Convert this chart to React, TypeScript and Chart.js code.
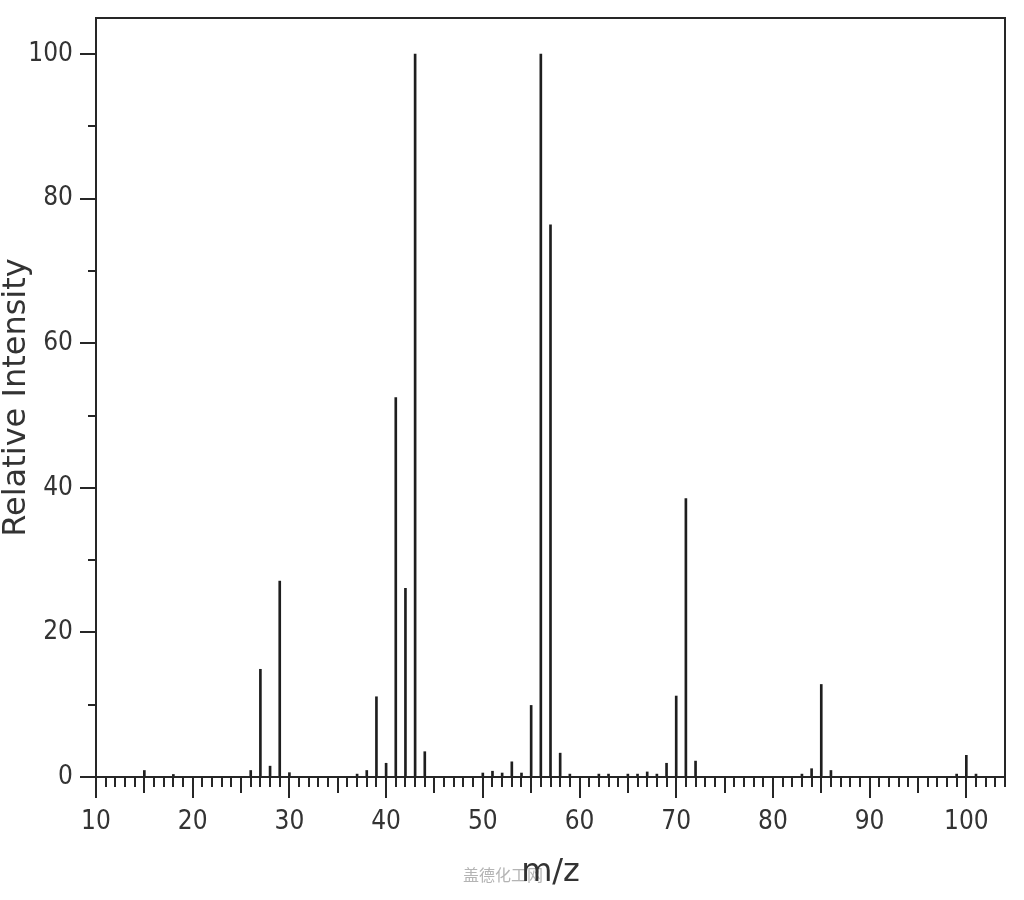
import React, { useEffect, useRef } from "react";
import { Chart, registerables } from "chart.js";

Chart.register(...registerables);

// m/z values and relative intensities
const MZ = [15, 18, 26, 27, 28, 29, 30, 37, 38, 39, 40, 41, 42, 43, 44, 50, 51, 52, 53, 54, 55, 56, 57, 58, 59, 62, 63, 65, 66, 67, 68, 69, 70, 71, 72, 83, 84, 85, 86, 99, 100, 101];
const INTENSITY = [0.9, 0.35, 0.9, 14.9, 1.5, 27.1, 0.6, 0.4, 0.9, 11.1, 1.9, 52.5, 26.1, 100, 3.5, 0.55, 0.8, 0.55, 2.1, 0.55, 9.9, 100, 76.4, 3.3, 0.4, 0.4, 0.4, 0.4, 0.4, 0.7, 0.4, 1.9, 11.2, 38.5, 2.2, 0.4, 1.15, 12.8, 0.9, 0.4, 3.0, 0.4];

const X_TICKS = [10, 20, 30, 40, 50, 60, 70, 80, 90, 100];
const Y_TICKS = [0, 20, 40, 60, 80, 100];
const X_MIN = 10;
const X_MAX = 104;
const Y_MIN = 0;
const Y_MAX = 105;

const X_TITLE = "m/z";
const Y_TITLE = "Relative Intensity";
const WATERMARK = "盖德化工网";

const AXIS_FONT = "'DejaVu Sans Condensed', 'Liberation Sans Narrow', 'Liberation Sans', sans-serif";
const TITLE_FONT = "'DejaVu Sans', 'Liberation Sans', sans-serif";
const INK = "#262626";

const specPlugin = {
  id: "specDecor",
  beforeDraw(chart: any) {
    const { ctx } = chart;
    ctx.save();
    ctx.fillStyle = "#b4b4b4";
    ctx.font = "16px 'Noto Sans CJK SC', sans-serif";
    ctx.textAlign = "left";
    ctx.textBaseline = "middle";
    ctx.fillText(WATERMARK, 463, 875);
    ctx.restore();
  },
  afterDatasetsDraw(chart: any) {
    const { ctx, chartArea, scales } = chart;
    const xs = scales.x;
    const ys = scales.y;
    ctx.save();
    ctx.strokeStyle = INK;
    ctx.lineWidth = 2;
    ctx.strokeRect(
      chartArea.left,
      chartArea.top,
      chartArea.right - chartArea.left,
      chartArea.bottom - chartArea.top
    );
    ctx.beginPath();
    for (let m = Math.ceil(xs.min); m <= Math.floor(xs.max); m++) {
      const px = Math.round(xs.getPixelForValue(m));
      const len = m % 10 === 0 ? 21 : m % 5 === 0 ? 16 : 10;
      ctx.moveTo(px, chartArea.bottom);
      ctx.lineTo(px, chartArea.bottom + len);
    }
    for (let v = 0; v <= 100; v += 10) {
      const py = Math.round(ys.getPixelForValue(v));
      const len = v % 20 === 0 ? 16 : 8;
      ctx.moveTo(chartArea.left - len, py);
      ctx.lineTo(chartArea.left, py);
    }
    ctx.stroke();
    ctx.restore();
  },
};

export default function App() {
  const canvasRef = useRef<HTMLCanvasElement | null>(null);

  useEffect(() => {
    if (!canvasRef.current) return;
    const data = MZ.map((m, i) => ({ x: m, y: INTENSITY[i] }));
    const chart = new Chart(canvasRef.current, {
      type: "bar",
      data: {
        datasets: [
          {
            data: data as any,
            backgroundColor: "#1e1e1e",
            borderWidth: 0,
            barThickness: 2,
          },
        ],
      },
      plugins: [specPlugin],
      options: {
        animation: false,
        responsive: false,
        maintainAspectRatio: false,
        layout: { padding: { top: 18, right: 19, left: 0, bottom: 0 } },
        plugins: {
          legend: { display: false },
          tooltip: { enabled: false },
        },
        scales: {
          x: {
            type: "linear",
            min: X_MIN,
            max: X_MAX,
            offset: false,
            grid: { display: false, drawTicks: false },
            border: { display: false },
            afterFit: (s: any) => {
              s.height = 123;
              s.paddingLeft = 0;
              s.paddingRight = 0;
            },
            afterBuildTicks: (s: any) => {
              s.ticks = X_TICKS.map((v) => ({ value: v }));
            },
            ticks: {
              color: "#333",
              padding: 30,
              maxRotation: 0,
              autoSkip: false,
              font: { family: AXIS_FONT, size: 26 },
            },
            title: {
              display: true,
              text: X_TITLE,
              color: "#333",
              padding: { top: 0, bottom: 11 },
              font: { family: TITLE_FONT, size: 32, lineHeight: 1 },
            },
          },
          y: {
            type: "linear",
            min: Y_MIN,
            max: Y_MAX,
            grid: { display: false, drawTicks: false },
            border: { display: false },
            afterFit: (s: any) => {
              s.width = 96;
              s.paddingTop = 0;
              s.paddingBottom = 0;
            },
            afterBuildTicks: (s: any) => {
              s.ticks = Y_TICKS.map((v) => ({ value: v }));
            },
            ticks: {
              color: "#333",
              padding: 23,
              autoSkip: false,
              font: { family: AXIS_FONT, size: 26 },
            },
            title: {
              display: true,
              text: Y_TITLE,
              color: "#333",
              padding: { top: 1, bottom: 0 },
              font: { family: TITLE_FONT, size: 32, lineHeight: 1 },
            },
          },
        },
      },
    });
    return () => chart.destroy();
  }, []);

  return (
    <div style={{ position: "absolute", left: 0, top: 0, width: 1024, height: 900, background: "#fff" }}>
      <canvas ref={canvasRef} width={1024} height={900} style={{ display: "block" }} />
    </div>
  );
}
